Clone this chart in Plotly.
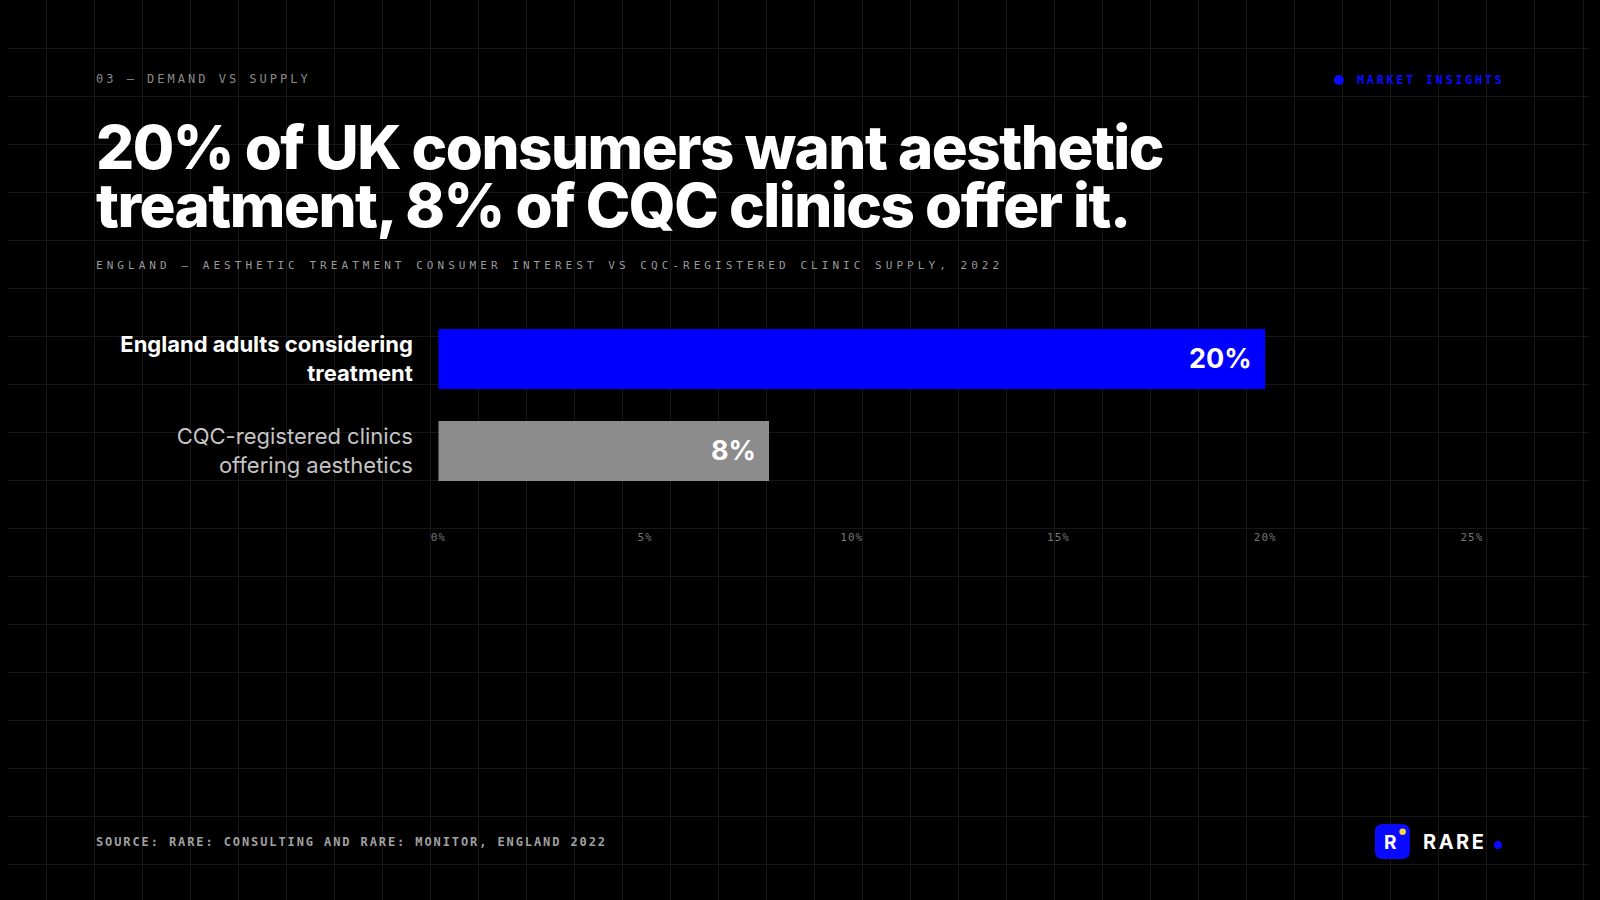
import plotly.graph_objects as go

# ---- data ----
categories = ["England adults considering treatment", "CQC-registered clinics offering aesthetics"]
category_ticktext = [
    "<b>England adults considering</b><br><b>treatment</b>",
    "<span style='color:#c4c4c4'>CQC-registered clinics<br>offering aesthetics</span>",
]
values = [20, 8]
value_labels = ["20%", "8%"]
bar_colors = ["#0000ff", "#8c8c8c"]
tick_values = [0, 5, 10, 15, 20, 25]
tick_labels = ["0%", "5%", "10%", "15%", "20%", "25%"]

kicker = "03 — DEMAND VS SUPPLY"
title_lines = ["20% of UK consumers want aesthetic", "treatment, 8% of CQC clinics offer it."]
subtitle = "ENGLAND — AESTHETIC TREATMENT CONSUMER INTEREST VS CQC-REGISTERED CLINIC SUPPLY, 2022"
tag = "MARKET INSIGHTS"
source = "SOURCE: RARE: CONSULTING AND RARE: MONITOR, ENGLAND 2022"
brand = "RARE"

W, H = 1600, 900
# horizontal span actually covered by the plot area on screen
X0, X1 = 10, 1590
MONO = "DejaVu Sans Mono, Liberation Mono, monospace"
SANS = "Inter, Roboto, Noto Sans, sans-serif"


def dom(px):
    return (px - X0) / (X1 - X0)


fig = go.Figure()

# invisible trace on the full-page background grid axes
fig.add_trace(go.Scatter(x=[X0], y=[0], mode="markers", marker=dict(opacity=0),
                         hoverinfo="skip", showlegend=False, xaxis="x", yaxis="y"))

# bars
fig.add_trace(go.Bar(
    x=values, y=categories, orientation="h",
    marker=dict(color=bar_colors, line=dict(width=0)),
    hoverinfo="skip", showlegend=False, xaxis="x2", yaxis="y2",
))

fig.update_layout(
    width=W, height=H, autosize=False,
    margin=dict(l=0, r=0, t=0, b=0),
    paper_bgcolor="#000000", plot_bgcolor="rgba(0,0,0,0)",
    bargap=0.348,
    xaxis=dict(domain=[0, 1], range=[X0, X1], tick0=0, dtick=48, showgrid=True,
               gridcolor="#171717", gridwidth=1, zeroline=False, showticklabels=False,
               ticks="", fixedrange=True, anchor="y"),
    yaxis=dict(domain=[0, 1], range=[H, 0], tick0=0, dtick=48, showgrid=True,
               gridcolor="#171717", gridwidth=1, zeroline=False, showticklabels=False,
               ticks="", fixedrange=True, anchor="x"),
    xaxis2=dict(domain=[dom(440), dom(1473)], range=[0, 25], anchor="y2",
                tickvals=tick_values,
                ticktext=[f"<span style='letter-spacing:1px'>{t}</span>" for t in tick_labels],
                tickfont=dict(family=MONO, size=11, color="#767676"),
                showgrid=False, zeroline=False, showline=False, ticks="", fixedrange=True),
    yaxis2=dict(domain=[1 - 529 / H, 1 - 313 / H], anchor="x2", type="category",
                range=[1.848, -0.5], tickvals=categories, ticktext=category_ticktext,
                tickfont=dict(family=SANS, size=22, color="#ffffff"),
                ticks="outside", ticklen=20, tickcolor="rgba(0,0,0,0)",
                showgrid=False, zeroline=False, showline=False, fixedrange=True),
)

ann = []
# value labels inside bars
for v, c, lab in zip(values, categories, value_labels):
    ann.append(dict(x=v, y=c, xref="x2", yref="y2", text=f"<b>{lab}</b>", showarrow=False,
                    xanchor="right", yanchor="middle", xshift=-11,
                    font=dict(family=SANS, size=27, color="#ffffff")))


def txt(x, y, text, size, color, family=MONO, xanchor="left", spacing=None, bold=False, weight=None):
    t = f"<b>{text}</b>" if bold else text
    if spacing is not None:
        t = f"<span style='letter-spacing:{spacing}px'>{t}</span>"
    f = dict(family=family, size=size, color=color)
    if weight is not None:
        f["weight"] = weight
    return dict(x=x, y=y, xref="x", yref="y", text=t, showarrow=False,
                xanchor=xanchor, yanchor="middle", font=f)


ann.append(txt(96, 79, kicker, 12, "#8a8a8a", spacing=3))
ann.append(txt(96, 147, title_lines[0], 60, "#ffffff", family=SANS, weight=800, spacing=-1.5))
ann.append(txt(96, 205, title_lines[1], 60, "#ffffff", family=SANS, weight=800, spacing=-1.5))
ann.append(txt(96, 265, subtitle, 11, "#9a9a9a", spacing=4.05))
ann.append(txt(1507, 80, tag, 12, "#0a0aff", xanchor="right", spacing=2.6, bold=True))
ann.append(txt(96, 842, source, 12, "#a0a0a0", spacing=1.9, bold=True))
ann.append(txt(1392, 842, "R", 19, "#ffffff", family=SANS, xanchor="center", bold=True))
ann.append(txt(1422, 842, brand, 20, "#ffffff", family=SANS, spacing=2.5, bold=True))
fig.update_layout(annotations=ann)

# decorative shapes (pixel coordinates on the background axes)
shapes = [
    dict(type="circle", xref="x", yref="y", x0=1335, x1=1345, y0=75, y1=85,
         fillcolor="#0a0aff", line=dict(width=0)),
    dict(type="path", xref="x", yref="y",
         path="M 1384,824 L 1403,824 Q 1411,824 1411,832 L 1411,851 Q 1411,859 1403,859 "
              "L 1384,859 Q 1376,859 1376,851 L 1376,832 Q 1376,824 1384,824 Z",
         fillcolor="#0a0aff", line=dict(width=0)),
    dict(type="circle", xref="x", yref="y", x0=1400.5, x1=1407, y0=828.5, y1=835,
         fillcolor="#f2d83b", line=dict(width=0)),
    dict(type="circle", xref="x", yref="y", x0=1495, x1=1503, y0=841, y1=849,
         fillcolor="#0a0aff", line=dict(width=0)),
]
fig.update_layout(shapes=shapes)

post = """
document.documentElement.style.margin='0';
document.documentElement.style.overflow='hidden';
document.body.style.margin='0';
document.body.style.overflow='hidden';
document.body.style.background='#000';
var gd = document.getElementById('{plot_id}');
gd.style.position='absolute'; gd.style.left='0px'; gd.style.top='0px';
gd.style.width='1600px'; gd.style.height='900px';
Plotly.relayout(gd, {width: 1600, height: 900});
"""

fig.write_html("out.html", config={"displayModeBar": False, "responsive": False},
               post_script=post)
